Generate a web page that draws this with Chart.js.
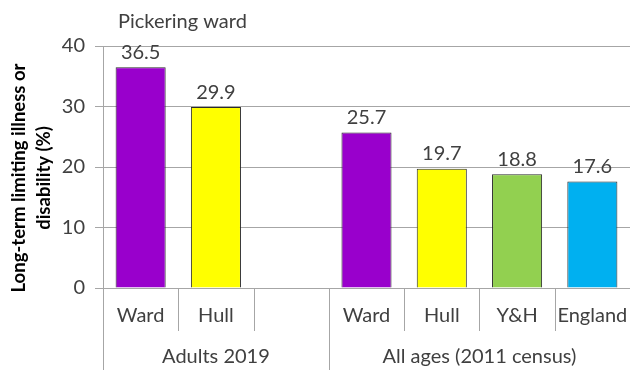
<!DOCTYPE html>
<html>
<head>
<meta charset="utf-8">
<script src="https://cdn.jsdelivr.net/npm/chart.js@4/dist/chart.umd.min.js"></script>
<style>
  html, body { margin: 0; padding: 0; background: #fff; }
  #wrap { width: 630px; height: 370px; }
</style>
</head>
<body>
<div id="wrap"><canvas id="chart" width="630" height="370"></canvas></div>
<script>
// Long-term limiting illness or disability, Pickering ward
const categories = ['Ward', 'Hull', '', 'Ward', 'Hull', 'Y&H', 'England'];
const values = [36.5, 29.9, null, 25.7, 19.7, 18.8, 17.6];
const barColors = ['#9900CC', '#FFFF00', '#FFFFFF', '#9900CC', '#FFFF00', '#92D050', '#00B0F0'];
const groups = [
  { label: 'Adults 2019', from: 0, to: 2 },
  { label: 'All ages (2011 census)', from: 3, to: 6 }
];
const yTicks = [0, 10, 20, 30, 40];
const chartTitle = 'Pickering ward';
const yTitle = ['Long-term limiting illness or', 'disability (%)'];

const FONT = 'Lato, "Liberation Sans", sans-serif';
const TEXT = '#404040';
const GRID = '#A6A6A6';

const overlay = {
  id: 'overlay',
  afterDraw(chart) {
    const ctx = chart.ctx;
    const x = chart.scales.x;
    const area = chart.chartArea;
    ctx.save();

    // chart title
    ctx.fillStyle = TEXT;
    ctx.font = '20px ' + FONT;
    ctx.textAlign = 'left';
    ctx.textBaseline = 'middle';
    ctx.fillText(chartTitle, 118, 22);

    // value labels
    ctx.textAlign = 'center';
    const meta = chart.getDatasetMeta(0);
    meta.data.forEach((bar, i) => {
      if (values[i] == null) return;
      ctx.fillText(values[i].toFixed(1), bar.x, bar.y - 15);
    });

    // category separators and group dividers
    const half = (x.getPixelForValue(1) - x.getPixelForValue(0)) / 2;
    ctx.strokeStyle = GRID;
    ctx.lineWidth = 1;
    const groupEdges = new Set(groups.map(g => g.from));
    for (let i = 0; i < categories.length; i++) {
      const bx = Math.round(x.getPixelForValue(i) - half) + 0.5;
      const long = groupEdges.has(i);
      ctx.beginPath();
      ctx.moveTo(bx, area.bottom);
      ctx.lineTo(bx, long ? chart.height : area.bottom + 43);
      ctx.stroke();
    }

    // group labels
    ctx.fillStyle = TEXT;
    groups.forEach(g => {
      const cx = (x.getPixelForValue(g.from) + x.getPixelForValue(g.to)) / 2;
      ctx.fillText(g.label, cx, 357);
    });

    // y axis title
    ctx.fillStyle = '#000';
    ctx.font = 'bold 18.5px ' + FONT;
    ctx.translate(0, 178);
    ctx.rotate(-Math.PI / 2);
    ctx.fillText(yTitle[0], 0, 19);
    ctx.fillText(yTitle[1], 0, 44);
    ctx.restore();
  }
};

new Chart(document.getElementById('chart'), {
  type: 'bar',
  data: {
    labels: categories,
    datasets: [{
      data: values,
      backgroundColor: barColors,
      borderColor: '#2b2b2b',
      borderWidth: 1,
      categoryPercentage: 1,
      barPercentage: 0.665
    }]
  },
  options: {
    responsive: false,
    animation: false,
    layout: { padding: { top: 46, right: 0, left: 0, bottom: 0 } },
    plugins: { legend: { display: false }, tooltip: { enabled: false }, title: { display: false } },
    scales: {
      x: {
        afterFit(s) { s.height = 82; s.paddingLeft = 0; s.paddingRight = 0; },
        grid: { display: false, drawTicks: false },
        border: { display: false },
        ticks: { color: TEXT, font: { family: FONT, size: 20 }, padding: 16, autoSkip: false, maxRotation: 0 }
      },
      y: {
        min: 0, max: 40,
        afterFit(s) { s.width = 103; },
        afterBuildTicks(s) { s.ticks = yTicks.map(v => ({ value: v })); },
        grid: { color: GRID, tickLength: 8, tickColor: GRID },
        border: { color: GRID },
        ticks: { color: TEXT, font: { family: FONT, size: 20 }, padding: 10 }
      }
    }
  },
  plugins: [overlay]
});
</script>
</body>
</html>
